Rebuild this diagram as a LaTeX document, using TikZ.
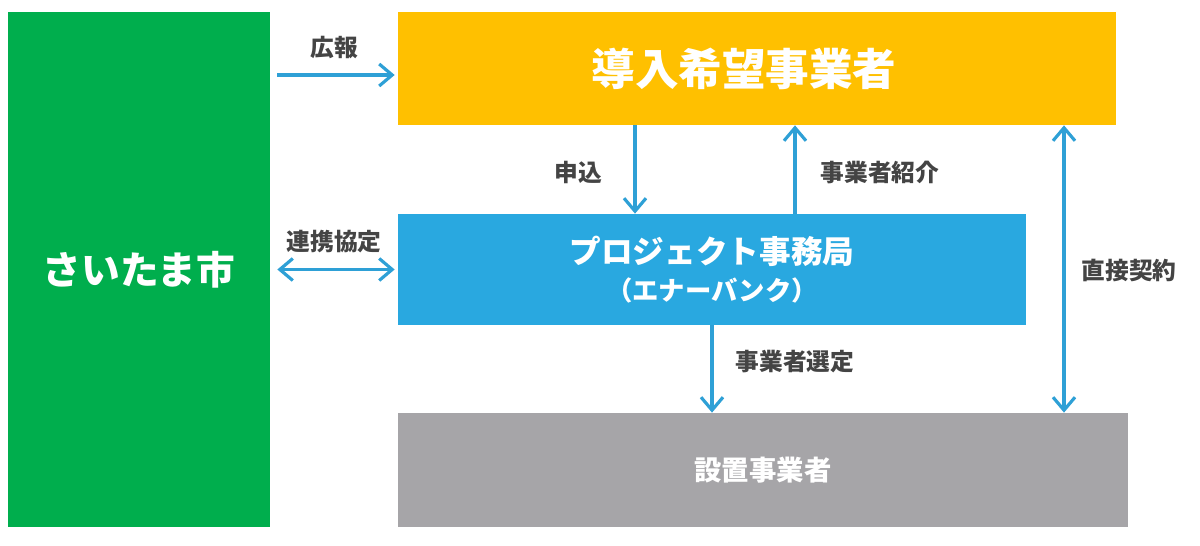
\documentclass[tikz,border=0pt]{standalone}
\usepackage{fontspec}
\setmainfont{Noto Sans CJK JP}
\usepackage{xcolor}
\usepackage{tikz}
\usetikzlibrary{positioning,arrows.meta,calc}
\definecolor{citygreen}{RGB}{0,174,77}
\definecolor{introyellow}{RGB}{255,192,0}
\definecolor{officeblue}{RGB}{41,168,224}
\definecolor{installgray}{RGB}{166,165,168}
\definecolor{arrowblue}{RGB}{46,160,214}
\definecolor{labelgray}{RGB}{68,68,68}
\tikzset{
  blk/.style  = {draw=none, inner sep=0pt, align=center, text=white},
  ar/.style   = {-{Straight Barb[length=2.6mm,width=4.4mm]}, line width=1.8pt, draw=arrowblue},
  arr/.style  = {{Straight Barb[length=2.6mm,width=4.4mm]}-{Straight Barb[length=2.6mm,width=4.4mm]},
                 line width=1.8pt, draw=arrowblue},
  lbl/.style  = {font=\fontsize{13.5}{16}\selectfont\bfseries, text=labelgray, inner sep=1pt},
}
\begin{document}
\begin{tikzpicture}
\useasboundingbox (0,0) rectangle (24,-10.92);
\fill[white] (0,0) rectangle (24,-10.92);

\node[blk, fill=citygreen, minimum width=5.24cm, minimum height=10.3cm,
      font=\fontsize{22}{26}\selectfont\bfseries] (city) at (2.78,-5.39) {さいたま市};

\node[blk, fill=introyellow, minimum width=14.36cm, minimum height=2.26cm,
      font=\fontsize{24.8}{28}\selectfont\bfseries] (intro) at (15.14,-1.37)
     {導入希望事業者\hspace*{0.52cm}};

\node[blk, fill=officeblue, minimum width=12.56cm, minimum height=2.22cm,
      font=\fontsize{18}{22}\selectfont\bfseries] (office) at (14.24,-5.39)
     {プロジェクト事務局\\[-1pt]
      {\fontsize{15}{18}\selectfont （エナーバンク）}};

\node[blk, fill=installgray, minimum width=14.6cm, minimum height=2.28cm,
      font=\fontsize{15.6}{19}\selectfont\bfseries] (install) at (15.26,-9.40) {設置事業者};

% connectors
\draw[ar, shorten <=0.14cm, shorten >=0.06cm]
     ([yshift=-0.13cm]city.east |- intro.west) -- ([yshift=-0.13cm]intro.west);
\draw[arr, shorten <=0.14cm, shorten >=0.06cm] (city.east |- office.west) -- (office.west);
\draw[ar] ([xshift=-2.44cm]intro.south) -- ([xshift=-2.44cm]intro.south |- office.north);
\draw[ar] ([xshift=1.66cm]office.north) -- ([xshift=1.66cm]office.north |- intro.south);
\draw[ar] (office.south) -- (office.south |- install.north);
\draw[arr] ([xshift=6.14cm]intro.south) -- ([xshift=6.14cm]intro.south |- install.north);

% labels
\node[lbl] (lkoho)   at (6.68,-0.96)  {広報};
\node[lbl] (lrenkei) at (6.68,-4.84)  {連携協定};
\node[lbl] (lmoshi)  at (11.56,-3.44) {申込};
\node[lbl] (lshokai) at (17.60,-3.44) {事業者紹介};
\node[lbl] (lsentei) at (15.90,-7.24) {事業者選定};
\node[lbl] (lkeiyak) at (22.58,-5.40) {直接契約};
\end{tikzpicture}
\end{document}
